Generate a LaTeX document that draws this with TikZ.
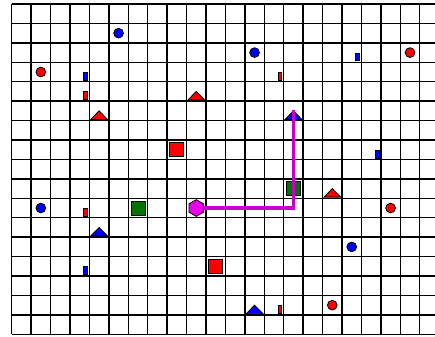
\documentclass[tikz,border=0pt]{standalone}
\usepackage{tikz}
\usetikzlibrary{arrows.meta,positioning,calc,shapes.geometric}
\definecolor{mapBlue}{RGB}{0,0,255}
\definecolor{mapRed}{RGB}{255,0,0}
\definecolor{mapGreen}{RGB}{0,115,0}
\definecolor{mapMagenta}{RGB}{235,0,235}
\definecolor{pathMagenta}{RGB}{200,0,200}

\begin{document}
\begin{tikzpicture}[x=0.5cm,y=-0.5cm,
    gridline/.style={draw=black,line width=1pt},
    dot/.style={circle,draw=black,line width=0.6pt,inner sep=0pt,minimum size=0.25cm},
    tag/.style={rectangle,draw=black,line width=0.5pt,inner sep=0pt,minimum width=0.1cm,minimum height=0.2cm},
    crate/.style={rectangle,draw=black,line width=0.7pt,inner sep=0pt,minimum size=0.36cm},
    cone/.style={draw=black,line width=0.6pt,line join=miter},
    robot/.style={regular polygon,regular polygon sides=6,shape border rotate=30,draw=black,line width=0.6pt,fill=mapMagenta,inner sep=0pt,minimum size=0.43cm}]
      \useasboundingbox (-0.602,-0.206) rectangle (21.786,17.138);
      \begin{scope}
        \clip (-0.602,-0.206) rectangle (21.786,17.138);
        \foreach \c in {0,...,22} \draw[gridline] (\c,0) -- (\c,17);
        \foreach \r in {0,...,17} \draw[gridline] (0,\r) -- (22,\r);
      \end{scope}
      % circles
      \node[dot,fill=mapBlue] (b1) at (5.5,1.5) {};
      \node[dot,fill=mapBlue] (b2) at (12.5,2.5) {};
      \node[dot,fill=mapBlue] (b3) at (1.5,10.5) {};
      \node[dot,fill=mapBlue] (b4) at (17.5,12.5) {};
      \node[dot,fill=mapRed] (r1) at (1.5,3.5) {};
      \node[dot,fill=mapRed] (r2) at (20.5,2.5) {};
      \node[dot,fill=mapRed] (r3) at (19.5,10.5) {};
      \node[dot,fill=mapRed] (r4) at (16.5,15.5) {};
      % small tags
      \node[tag,fill=mapBlue] (tb1) at (3.8,3.72) {};
      \node[tag,fill=mapBlue] (tb2) at (17.8,2.72) {};
      \node[tag,fill=mapBlue] (tb3) at (18.8,7.72) {};
      \node[tag,fill=mapBlue] (tb4) at (3.8,13.72) {};
      \node[tag,fill=mapRed] (tr1) at (3.8,4.72) {};
      \node[tag,fill=mapRed] (tr2) at (13.8,3.72) {};
      \node[tag,fill=mapRed] (tr3) at (3.8,10.72) {};
      \node[tag,fill=mapRed] (tr4) at (13.8,15.72) {};
      % crates
      \node[crate,fill=mapRed] (cr1) at (8.5,7.5) {};
      \node[crate,fill=mapRed] (cr2) at (10.5,13.5) {};
      \node[crate,fill=mapGreen] (cg1) at (6.5,10.5) {};
      \node[crate,fill=mapGreen] (cg2) at (14.5,9.5) {};
      % cones
      \draw[cone,fill=mapRed] (4.5,5.5) -- ++(0.43,0.44) -- ++(-0.86,0) -- cycle;
      \draw[cone,fill=mapRed] (9.5,4.5) -- ++(0.43,0.44) -- ++(-0.86,0) -- cycle;
      \draw[cone,fill=mapRed] (16.5,9.5) -- ++(0.43,0.44) -- ++(-0.86,0) -- cycle;
      \draw[cone,fill=mapBlue] (14.5,5.5) -- ++(0.43,0.44) -- ++(-0.86,0) -- cycle;
      \draw[cone,fill=mapBlue] (4.5,11.5) -- ++(0.43,0.44) -- ++(-0.86,0) -- cycle;
      \draw[cone,fill=mapBlue] (12.5,15.5) -- ++(0.43,0.44) -- ++(-0.86,0) -- cycle;
      % route
      \node[robot] (start) at (9.5,10.5) {};
      \coordinate (goal) at (14.5,5.47);
      \draw[pathMagenta,line width=2.4pt] (start.east) -| (goal);
    \end{tikzpicture}
\end{document}
